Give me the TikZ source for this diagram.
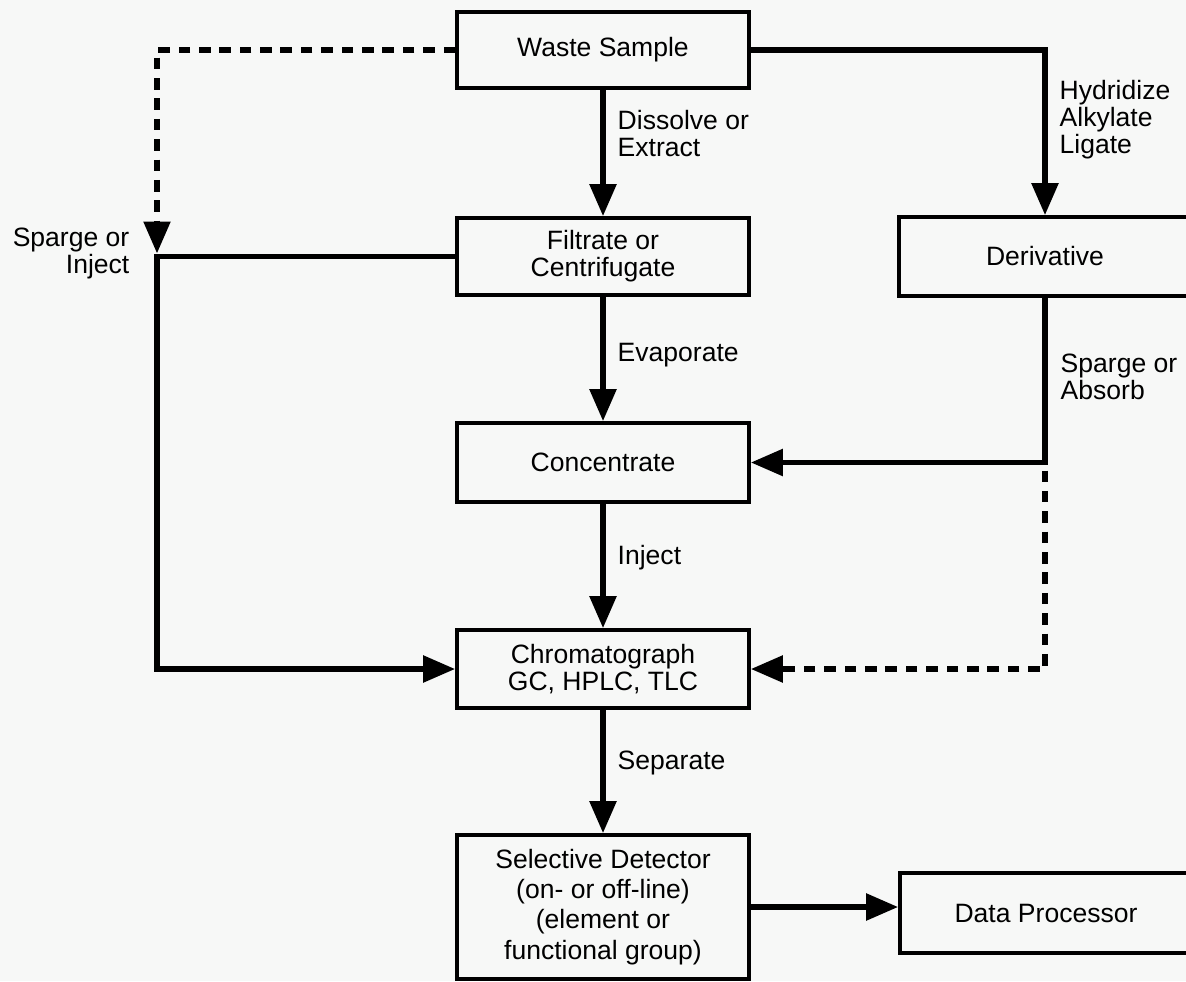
\documentclass[tikz,border=0pt]{standalone}
\usepackage{fontspec}
\setmainfont{Liberation Sans}
\usetikzlibrary{arrows.meta}
\definecolor{paper}{HTML}{F7F8F7}

\begin{document}
\begin{tikzpicture}[font=\fontsize{7.55}{7.7}\selectfont,
  stage/.style={draw, line width=1.05pt, minimum width=2.92cm, inner sep=0, align=center},
  wire/.style={line width=1.55pt},
  flow/.style={wire, -{Triangle[length=0.32cm,width=0.26cm]}},
  hint/.style={dash pattern=on 3.3pt off 2.5pt},
  tag/.style={anchor=west, align=left, inner sep=0}]
\useasboundingbox (0,0) rectangle (11.86,-9.81);
\fill[paper] (0,0) rectangle (11.86,-9.81);
\clip (0,0) rectangle (11.86,-9.81);
% boxes
\node[stage, minimum height=0.76cm] (waste) at (6.03,-0.50) {Waste Sample};
\node[stage, minimum height=0.77cm] (filt) at (6.03,-2.565) {Filtrate or\\Centrifugate};
\node[stage, minimum height=0.79cm] (deriv) at (10.45,-2.565) {Derivative};
\node[stage, minimum height=0.79cm] (conc) at (6.03,-4.625) {Concentrate};
\node[stage, minimum height=0.78cm] (chrom) at (6.03,-6.69) {Chromatograph\\GC, HPLC, TLC};
\node[stage, minimum height=1.44cm, font=\fontsize{7.55}{8.6}\selectfont] (detect) at (6.03,-9.07)
  {Selective Detector\\(on- or off-line)\\(element or\\functional group)};
\node[stage, minimum height=0.80cm] (data) at (10.46,-9.13) {Data Processor};
\coordinate (jl) at (1.57,0 |- filt.west);
\coordinate (jr) at (deriv.south |- conc.east);
% main column
\foreach \a/\b in {waste/filt,filt/conc,conc/chrom,chrom/detect}
  \draw[flow] (\a) -- (\b);
\draw[flow] (filt.west) -- (jl) |- (chrom.west);
\draw[flow, hint] (waste.west) -| ([yshift=0.03cm]jl);
\draw[flow] (waste.east) -| (deriv.north);
\draw[flow] (deriv.south) |- (conc.east);
\draw[flow, hint] ([yshift=-0.08cm]jr) |- (chrom.east);
\draw[flow] (detect.east) -- (detect.east -| data.west);
% labels
\node[tag] (dissolve) at (6.17,-1.335) {Dissolve or\\Extract};
\node[tag] (hydride) at (10.59,-1.20) {Hydridize\\Alkylate\\Ligate};
\node[tag, anchor=east, align=right] (spargel) at (1.30,-2.535) {Sparge or\\Inject};
\node[tag] (evap) at (6.17,-3.55) {Evaporate};
\node[tag] (sparger) at (10.60,-3.77) {Sparge or\\Absorb};
\node[tag] (inject) at (6.17,-5.58) {Inject};
\node[tag] (separate) at (6.17,-7.63) {Separate};
\end{tikzpicture}
\end{document}
